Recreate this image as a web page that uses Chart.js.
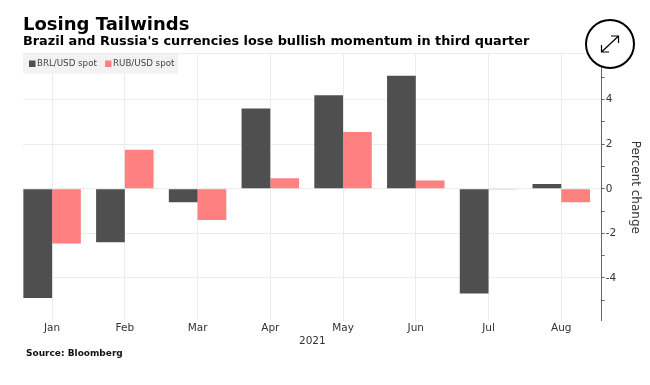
<!DOCTYPE html>
<html><head><meta charset="utf-8">
<style>html,body{margin:0;padding:0;background:#fff}#w{width:650px;height:385px;position:relative}</style>
<script src="https://cdn.jsdelivr.net/npm/chart.js@4"></script>
</head><body><div id="w"><canvas id="c" width="650" height="385"></canvas></div>
<script>
const months = ['Jan','Feb','Mar','Apr','May','Jun','Jul','Aug'];
const brl = [-4.9,-2.4,-0.6,3.6,4.2,5.07,-4.7,0.22];
const rub = [-2.45,1.75,-1.4,0.47,2.55,0.37,-0.03,-0.6];
const xName = '2021';
const yName = 'Percent change';
const titleText = 'Losing Tailwinds';
const subtitleText = "Brazil and Russia's currencies lose bullish momentum in third quarter";
const sourceText = 'Source: Bloomberg';
const FONT = '"DejaVu Sans"';
const DARK = '#4f4f4f', PINK = '#ff8080', TXT = '#333333', GRID = '#ececec';
const pts = a => a.map((y,x) => ({x,y}));

const overlay = {
  id:'overlay',
  afterDatasetsDraw(chart){
    const g = chart.ctx; g.save();
    // legend panel
    g.fillStyle='#f2f2f2'; g.fillRect(23,54,155,19.5);
    g.textBaseline='middle'; g.textAlign='left'; g.font='8.7px '+FONT;
    chart.data.datasets.forEach((d,i)=>{
      const x = i===0 ? 29 : 105;
      g.fillStyle=d.backgroundColor; g.fillRect(x,60.5,6.5,6.5);
      g.fillStyle='#444'; g.fillText(d.label,x+8,64);
    });
    // source
    g.fillStyle='#111'; g.font='bold 9px '+FONT; g.fillText(sourceText,26,353.5);
    // expand icon
    g.beginPath(); g.arc(610,44,24,0,Math.PI*2); g.fillStyle='#fff'; g.fill();
    g.lineWidth=2; g.strokeStyle='#000'; g.stroke();
    g.lineWidth=1.2; g.beginPath();
    g.moveTo(601.5,52); g.lineTo(618.5,36);
    g.moveTo(611,36); g.lineTo(618.5,36); g.lineTo(618.5,43);
    g.moveTo(601.5,45); g.lineTo(601.5,52); g.lineTo(609,52);
    g.stroke();
    g.restore();
  }
};

new Chart(document.getElementById('c'),{
  type:'bar',
  data:{datasets:[
    {label:'BRL/USD spot',data:pts(brl),backgroundColor:DARK},
    {label:'RUB/USD spot',data:pts(rub),backgroundColor:PINK}
  ]},
  plugins:[overlay],
  options:{
    responsive:false,animation:false,
    layout:{padding:{left:23,right:8,top:15,bottom:37}},
    datasets:{bar:{barPercentage:1,categoryPercentage:0.79}},
    plugins:{
      legend:{display:false},tooltip:{enabled:false},
      title:{display:true,text:titleText,align:'start',color:'#000',font:{family:FONT,size:18,weight:'bold',lineHeight:1.1},padding:{top:0,bottom:0}},
      subtitle:{display:true,text:subtitleText,align:'start',color:'#000',font:{family:FONT,size:12.85,weight:'bold',lineHeight:1.1},padding:{top:0,bottom:5}}
    },
    scales:{
      x:{type:'linear',offset:false,min:-0.4,max:7.555,position:'bottom',
        afterBuildTicks:s=>{s.ticks=months.map((m,i)=>({value:i}));},
        ticks:{stepSize:1,autoSkip:false,maxRotation:0,color:TXT,font:{family:FONT,size:10.5},padding:1,callback:v=>months[v]},
        grid:{offset:false,color:GRID,drawTicks:false,lineWidth:1},
        border:{display:false},
        title:{display:true,text:xName,color:TXT,font:{family:FONT,size:10.5},padding:{top:0,bottom:0}}
      },
      y:{position:'right',min:-5.92,max:6.05,
        afterBuildTicks:s=>{s.ticks=s.ticks.filter(t=>Number.isInteger(t.value)&&t.value<6).concat([{value:6.05}]);},
        ticks:{stepSize:1,autoSkip:false,color:TXT,font:{family:FONT,size:10.5},padding:1,
          callback:v=>(v%2===0&&v<6)?String(v):''},
        grid:{
          color:c=>{const v=c.tick&&c.tick.value;return (v%2===0||v===6.05)?GRID:'rgba(0,0,0,0)';},
          tickColor:c=>{const v=c.tick&&c.tick.value;return v===6.05?'rgba(0,0,0,0)':'#666';},
          tickLength:3,lineWidth:1},
        border:{display:true,color:'#666',width:1},
        title:{display:true,text:yName,color:TXT,font:{family:FONT,size:12},padding:{top:0,bottom:10.5}}
      }
    }
  }
});
</script></body></html>
